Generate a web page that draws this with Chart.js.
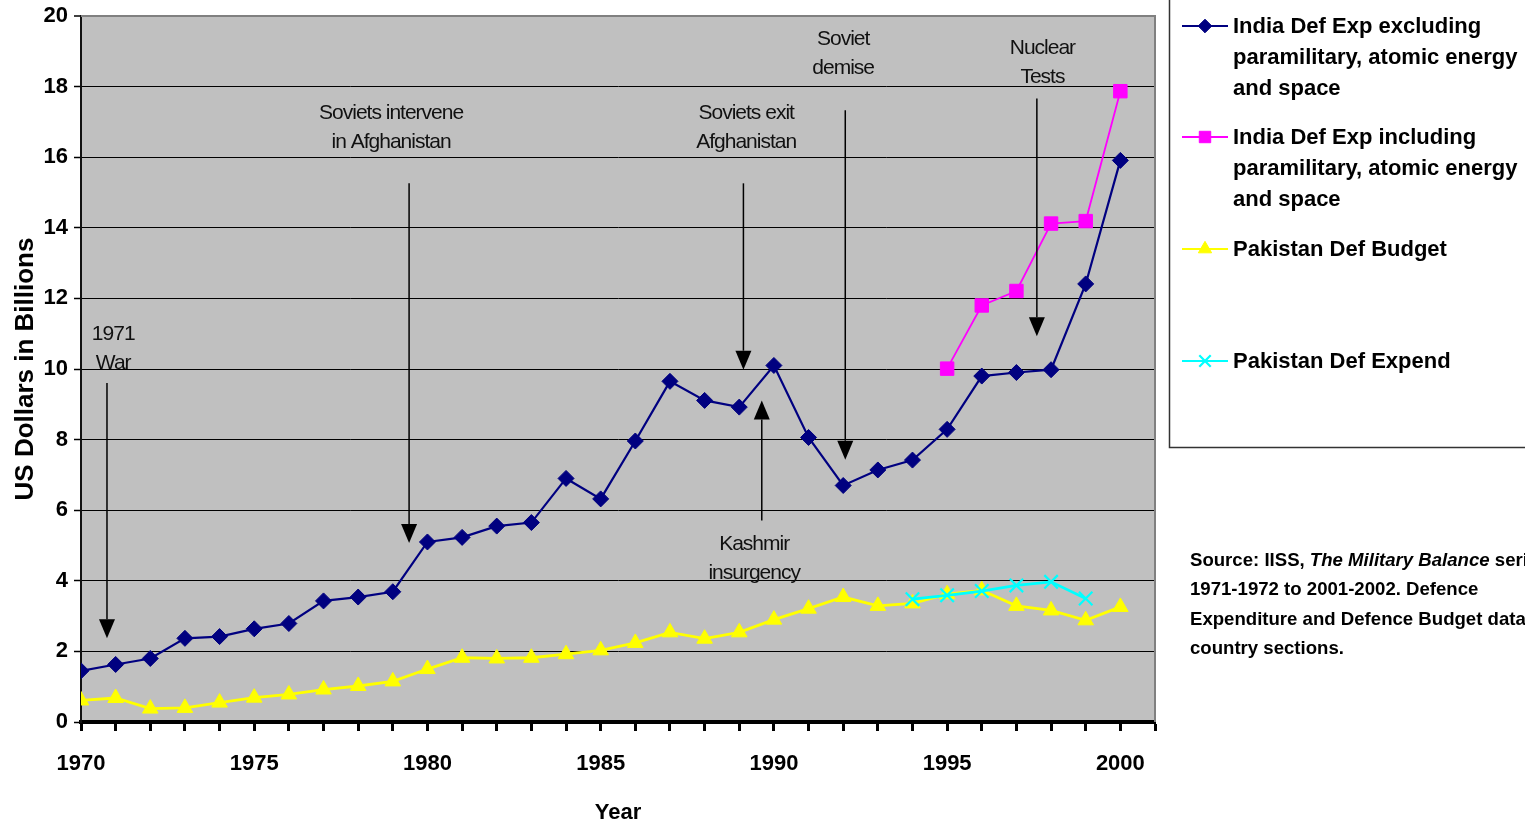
<!DOCTYPE html>
<html>
<head>
<meta charset="utf-8">
<title>India and Pakistan Defence Spending 1970-2000</title>
<script src="https://cdn.jsdelivr.net/npm/chart.js@4/dist/chart.umd.min.js"></script>
<style>
  html, body { margin: 0; padding: 0; background: #fff; }
  #wrap { width: 1525px; height: 826px; position: relative; }
</style>
</head>
<body>
<div id="wrap"><canvas id="c"></canvas></div>
<script>
// ---- data (US$ billions) ----
const years = [1970, 1971, 1972, 1973, 1974, 1975, 1976, 1977, 1978, 1979,
               1980, 1981, 1982, 1983, 1984, 1985, 1986, 1987, 1988, 1989,
               1990, 1991, 1992, 1993, 1994, 1995, 1996, 1997, 1998, 1999, 2000];

const indiaExcl = [1.45, 1.63, 1.80, 2.37, 2.42, 2.64, 2.79, 3.43, 3.54, 3.69,
                   5.10, 5.23, 5.55, 5.65, 6.90, 6.32, 7.96, 9.65, 9.11, 8.92,
                   10.10, 8.06, 6.70, 7.14, 7.42, 8.29, 9.80, 9.90, 9.98, 12.41, 15.91];

const indiaIncl = [null, null, null, null, null, null, null, null, null, null,
                   null, null, null, null, null, null, null, null, null, null,
                   null, null, null, null, null, 10.01, 11.80, 12.21, 14.12, 14.19, 17.87];

const pakBudget = [0.61, 0.68, 0.38, 0.40, 0.55, 0.69, 0.78, 0.92, 1.02, 1.15,
                   1.50, 1.82, 1.80, 1.82, 1.92, 2.03, 2.24, 2.54, 2.36, 2.54,
                   2.90, 3.21, 3.54, 3.29, 3.36, 3.62, 3.73, 3.29, 3.16, 2.88, 3.26];

const pakExpend = [null, null, null, null, null, null, null, null, null, null,
                   null, null, null, null, null, null, null, null, null, null,
                   null, null, null, null, 3.48, 3.59, 3.71, 3.87, 3.97, 3.50, null];

const seriesNames = [
  ["India Def Exp excluding", "paramilitary, atomic energy", "and space"],
  ["India Def Exp including", "paramilitary, atomic energy", "and space"],
  ["Pakistan Def Budget"],
  ["Pakistan Def Expend"]
];

const yTicks = [0, 2, 4, 6, 8, 10, 12, 14, 16, 18, 20];
const xLabelYears = [1970, 1975, 1980, 1985, 1990, 1995, 2000];

// event notes, placed in axis units (year, US$ bn)
const eventNotes = [
  { lines: ["1971", "War"], x: 1970.93, y: 10.98 },
  { lines: ["Soviets intervene", "in Afghanistan"], x: 1978.95, y: 17.24 },
  { lines: ["Soviets exit", "Afghanistan"], x: 1989.2, y: 17.24 },
  { lines: ["Soviet", "demise"], x: 1992.0, y: 19.34 },
  { lines: ["Nuclear", "Tests"], x: 1997.75, y: 19.08 },
  { lines: ["Kashmir", "insurgency"], x: 1989.43, y: 5.03 }
];
const eventArrows = [
  { x: 1970.75, from: 9.6, to: 2.37 },
  { x: 1979.47, from: 15.26, to: 5.07 },
  { x: 1989.12, from: 15.26, to: 9.98 },
  { x: 1989.65, from: 5.71, to: 9.11 },
  { x: 1992.06, from: 17.33, to: 7.43 },
  { x: 1997.59, from: 17.66, to: 10.93 }
];

const FONT = '"Liberation Sans", Arial, Helvetica, sans-serif';
Chart.defaults.font.family = FONT;
Chart.defaults.color = '#000';

const toPoints = arr => years.map((yr, i) => ({ x: yr, y: arr[i] }));

const datasets = [
  { label: seriesNames[0].join(' '), data: toPoints(indiaExcl), borderColor: '#000080', backgroundColor: '#000080',
    borderWidth: 2.2, pointStyle: 'rectRot', pointRadius: 8, pointBorderWidth: 1, order: 3 },
  { label: seriesNames[1].join(' '), data: toPoints(indiaIncl), borderColor: '#FF00FF', backgroundColor: '#FF00FF',
    borderWidth: 1.8, pointStyle: 'rect', pointRadius: 9.5, pointBorderWidth: 1, order: 2 },
  { label: seriesNames[2].join(' '), data: toPoints(pakBudget), borderColor: '#FFFF00', backgroundColor: '#FFFF00',
    borderWidth: 2.8, pointStyle: 'triangle', pointRadius: 9, pointBorderWidth: 1, order: 1 },
  { label: seriesNames[3].join(' '), data: toPoints(pakExpend), borderColor: '#00FFFF', backgroundColor: '#00FFFF',
    borderWidth: 2.8, pointStyle: 'crossRot', pointRadius: 9.5, pointBorderWidth: 2.2, order: 0 }
];

// plot fill and outer frame
const plotFrame = {
  id: 'plotFrame',
  beforeDraw(chart) {
    const { ctx, chartArea: a } = chart;
    ctx.save();
    ctx.fillStyle = '#fff';
    ctx.fillRect(0, 0, chart.width, chart.height);
    ctx.fillStyle = '#C0C0C0';
    ctx.fillRect(a.left, a.top, a.right - a.left, a.bottom - a.top);
    ctx.restore();
  },
  beforeDatasetsDraw(chart) {
    const { ctx, chartArea: a } = chart;
    ctx.save();
    ctx.strokeStyle = '#808080';
    ctx.lineWidth = 2;
    ctx.beginPath();
    ctx.moveTo(a.left, a.top);
    ctx.lineTo(a.right, a.top);
    ctx.lineTo(a.right, a.bottom);
    ctx.stroke();
    ctx.restore();
  }
};

// historical event labels with arrows
const eventLayer = {
  id: 'eventLayer',
  afterDatasetsDraw(chart) {
    const { ctx, scales: { x, y } } = chart;
    ctx.save();
    ctx.fillStyle = '#111';
    ctx.strokeStyle = '#000';
    ctx.font = '21px ' + FONT;
    ctx.letterSpacing = '-1px';
    ctx.textAlign = 'center';
    ctx.textBaseline = 'middle';
    eventNotes.forEach(n => {
      const px = x.getPixelForValue(n.x);
      const py = y.getPixelForValue(n.y);
      n.lines.forEach((t, i) => ctx.fillText(t, px, py + i * 28.5));
    });
    ctx.letterSpacing = '0px';
    eventArrows.forEach(a => {
      const px = x.getPixelForValue(a.x);
      const y0 = y.getPixelForValue(a.from);
      const y1 = y.getPixelForValue(a.to);
      const dir = y1 > y0 ? 1 : -1;
      const headLen = 19, headHalf = 8;
      ctx.lineWidth = 1.5;
      ctx.beginPath();
      ctx.moveTo(px, y0);
      ctx.lineTo(px, y1 - dir * headLen);
      ctx.stroke();
      ctx.fillStyle = '#000';
      ctx.beginPath();
      ctx.moveTo(px, y1);
      ctx.lineTo(px - headHalf, y1 - dir * headLen);
      ctx.lineTo(px + headHalf, y1 - dir * headLen);
      ctx.closePath();
      ctx.fill();
    });
    ctx.restore();
  }
};

// side legend and source note
const sidePanel = {
  id: 'sidePanel',
  afterDraw(chart) {
    const { ctx } = chart;
    ctx.save();
    ctx.strokeStyle = '#333';
    ctx.lineWidth = 1.5;
    ctx.strokeRect(1169.5, -1, 400, 448.5);

    const rowY = [26, 137, 249, 361];
    ctx.font = 'bold 22px ' + FONT;
    ctx.textAlign = 'left';
    ctx.textBaseline = 'middle';
    chart.data.datasets.forEach((ds, i) => {
      const yy = rowY[i];
      ctx.strokeStyle = ds.borderColor;
      ctx.lineWidth = 2;
      ctx.beginPath();
      ctx.moveTo(1182, yy);
      ctx.lineTo(1228, yy);
      ctx.stroke();
      ctx.fillStyle = ds.backgroundColor;
      ctx.strokeStyle = ds.borderColor;
      ctx.lineWidth = ds.pointBorderWidth;
      Chart.helpers.drawPoint(ctx, {
        pointStyle: ds.pointStyle, radius: ds.pointRadius * 0.85, rotation: 0, borderWidth: ds.pointBorderWidth
      }, 1205, yy);
      ctx.fillStyle = '#000';
      seriesNames[i].forEach((t, k) => ctx.fillText(t, 1233, yy + 1 + k * 31));
    });

    // source note
    const fs = 18.6;
    const bold = 'bold ' + fs + 'px ' + FONT;
    const boldItal = 'italic bold ' + fs + 'px ' + FONT;
    const sx = 1190;
    ctx.fillStyle = '#000';
    let cx = sx;
    const seg = [[bold, 'Source: IISS, '], [boldItal, 'The Military Balance'], [bold, ' series,']];
    seg.forEach(([f, t]) => { ctx.font = f; ctx.fillText(t, cx, 561); cx += ctx.measureText(t).width; });
    ctx.font = bold;
    ctx.fillText('1971-1972 to 2001-2002. Defence', sx, 590);
    ctx.fillText('Expenditure and Defence Budget data from', sx, 619.5);
    ctx.fillText('country sections.', sx, 648.5);
    ctx.restore();
  }
};

new Chart(document.getElementById('c'), {
  type: 'line',
  data: { datasets },
  options: {
    responsive: true,
    maintainAspectRatio: false,
    animation: false,
    events: [],
    layout: { padding: { top: 16, right: 370, left: 0, bottom: 0 } },
    plugins: { legend: { display: false }, tooltip: { enabled: false } },
    elements: { line: { tension: 0 } },
    scales: {
      x: {
        type: 'linear',
        min: 1970,
        max: 2001,
        afterFit(s) { s.height = 104; },
        afterBuildTicks(s) {
          s.ticks = [];
          for (let v = 1970; v <= 2001; v++) s.ticks.push({ value: v });
        },
        ticks: {
          autoSkip: false,
          maxRotation: 0,
          padding: 20,
          font: { size: 22, weight: 'bold' },
          color: '#000',
          callback: v => xLabelYears.includes(v) ? String(v) : ''
        },
        grid: { drawOnChartArea: false, drawTicks: true, tickLength: 9, tickWidth: 3, tickColor: '#000' },
        border: { display: true, color: '#000', width: 4 },
        title: { display: true, text: 'Year', font: { size: 22, weight: 'bold' }, color: '#000', padding: { top: 0, bottom: 0 } }
      },
      y: {
        min: 0,
        max: 20,
        afterFit(s) { s.width = 81; s.paddingTop = 0; s.paddingBottom = 0; },
        afterBuildTicks(s) { s.ticks = yTicks.map(v => ({ value: v })); },
        ticks: { padding: 6, font: { size: 22, weight: 'bold', lineHeight: 1 }, color: '#000' },
        grid: {
          color: c => (c.tick && c.tick.value === 20) ? '#808080' : '#000',
          lineWidth: c => (c.tick && c.tick.value === 20) ? 2 : 1,
          drawTicks: true, tickLength: 7, tickWidth: 1.5, tickColor: '#000'
        },
        border: { display: true, color: '#111', width: 2 },
        title: { display: true, text: 'US Dollars in Billions', font: { size: 26, weight: 'bold' }, color: '#000', padding: { top: 10, bottom: 0 } }
      }
    }
  },
  plugins: [plotFrame, eventLayer, sidePanel]
});
</script>
</body>
</html>
